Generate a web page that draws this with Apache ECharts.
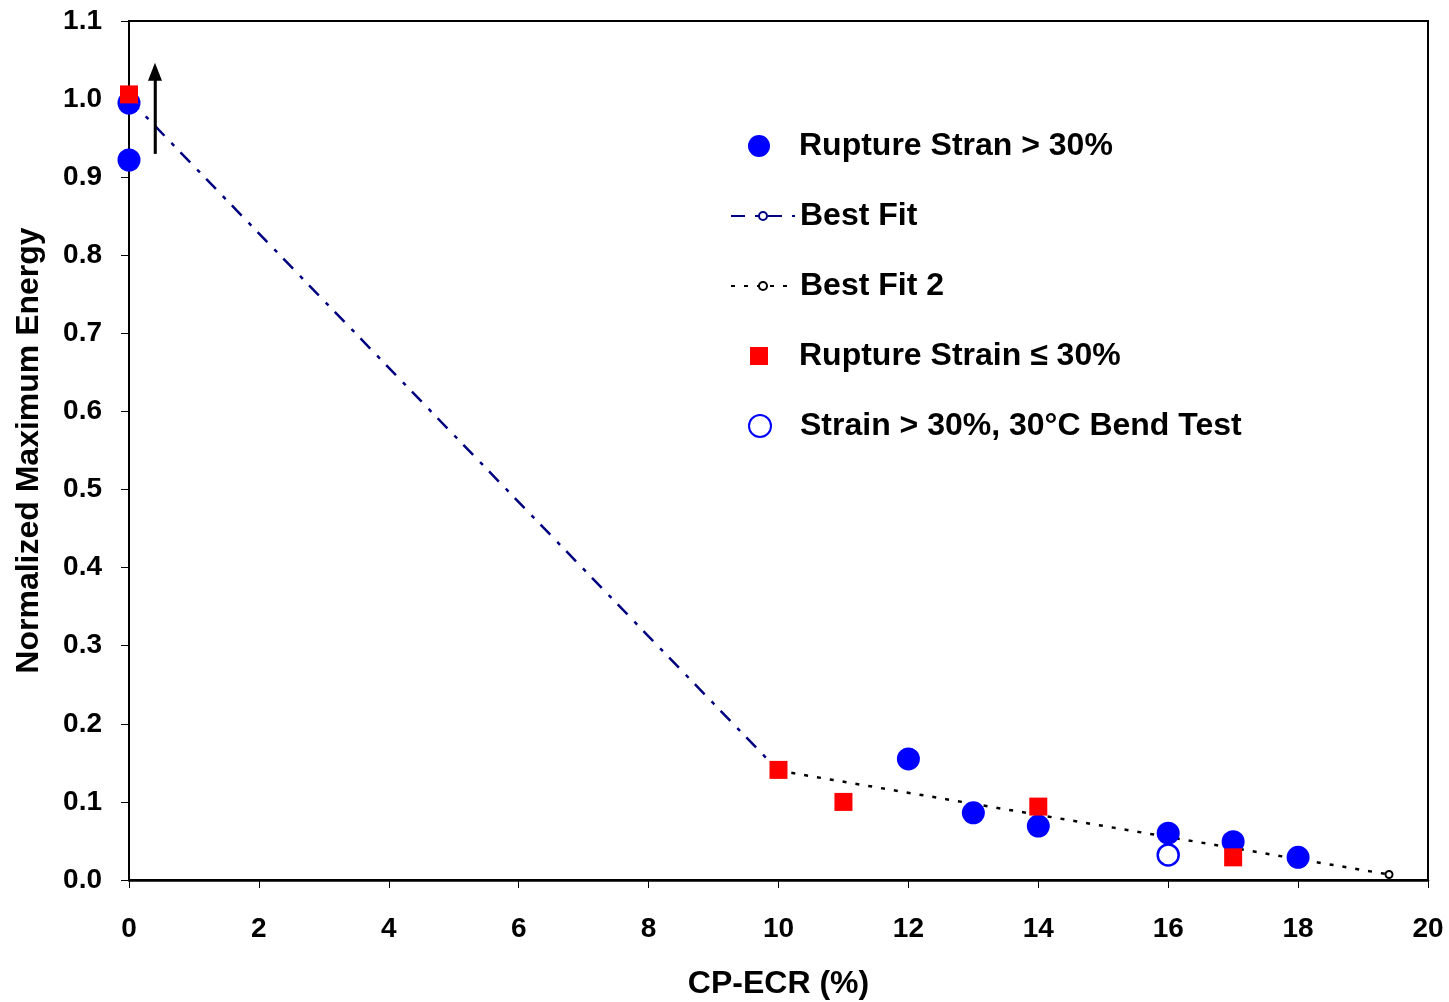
<!DOCTYPE html>
<html>
<head>
<meta charset="utf-8">
<script src="https://cdn.jsdelivr.net/npm/echarts@6/dist/echarts.min.js"></script>
<style>
  html, body { margin: 0; padding: 0; background: #fff; }
  #main { width: 1449px; height: 1002px; }
</style>
</head>
<body>
<div id="main"></div>
<script>
  // data
  const ruptureAbove = [[0, 0.995], [0, 0.922], [12, 0.155], [13, 0.086], [14, 0.069], [16, 0.060], [17, 0.049], [18, 0.029]];
  const ruptureBelow = [[0, 1.006], [10, 0.141], [11, 0.100], [14, 0.094], [17, 0.029]];
  const bendTest = [[16, 0.032]];
  const bestFit = [[0, 1.0], [10, 0.14]];
  const bestFit2 = [[10, 0.14], [19.4, 0.007]];
  const arrowLine = [[0.4, 0.93], [0.4, 1.035]];

  const names = ['Rupture Stran > 30%', 'Best Fit', 'Best Fit 2', 'Rupture Strain \u2264 30%', 'Strain > 30%, 30\u00b0C Bend Test'];

  const FONT = '"Liberation Sans", Arial, sans-serif';

  const chart = echarts.init(document.getElementById('main'));

  // one legend per entry so each icon can have its own size
  const legendMid = [143, 213, 283, 353, 423];
  const legendIconW = [22, 64, 64, 18, 22];
  const legendIconH = [22, 10, 10, 18, 22];
  const textX = 799;
  const iconMidX = 759;
  const legends = names.map((n, i) => {
    const w = legendIconW[i];
    const left = w > 30 ? textX - 5 - w : iconMidX - w / 2;
    const pad = textX - (left + w + 5);
    return {
      data: [n],
      left: left,
      top: legendMid[i] - 13,
      padding: 0,
      itemWidth: w,
      itemHeight: legendIconH[i],
      symbolKeepAspect: true,
      selectedMode: false,
      textStyle: {
        fontFamily: FONT, fontWeight: 'bold', fontSize: 32, color: '#000',
        padding: [0, 0, 0, pad]
      }
    };
  });

  const option = {
    animation: false,
    backgroundColor: '#fff',
    legend: legends,
    grid: {
      left: 129, right: 21, top: 21, bottom: 122,
      outerBoundsMode: 'none',
      show: true, borderColor: '#000', borderWidth: 2, backgroundColor: 'transparent'
    },
    xAxis: {
      type: 'value', min: 0, max: 20, interval: 2,
      name: 'CP-ECR (%)', nameLocation: 'middle', nameGap: 88,
      nameTextStyle: { fontFamily: FONT, fontWeight: 'bold', fontSize: 32, color: '#000' },
      axisLine: { lineStyle: { color: '#000', width: 2.5 } },
      axisTick: { show: true, length: 8, lineStyle: { color: '#000', width: 1 } },
      axisLabel: { fontFamily: FONT, fontWeight: 'bold', fontSize: 28, color: '#000', margin: 35 },
      splitLine: { show: false }
    },
    yAxis: {
      type: 'value', min: 0, max: 1.1, interval: 0.1,
      name: 'Normalized Maximum Energy', nameLocation: 'middle', nameGap: 84,
      nameTextStyle: { fontFamily: FONT, fontWeight: 'bold', fontSize: 32, color: '#000' },
      axisLine: { show: true, lineStyle: { color: '#000', width: 2 } },
      axisTick: { show: true, length: 8, lineStyle: { color: '#000', width: 1 } },
      axisLabel: {
        fontFamily: FONT, fontWeight: 'bold', fontSize: 28, color: '#000', margin: 27,
        formatter: v => v.toFixed(1)
      },
      splitLine: { show: false }
    },
    series: [
      {
        name: 'Best Fit', type: 'line', data: bestFit, z: 2,
        symbol: 'emptyCircle', symbolSize: 7, color: '#000080',
        lineStyle: { color: '#000080', width: 2.5, type: [14, 10, 4, 9] },
        itemStyle: { color: '#000080', borderWidth: 1.5 }
      },
      {
        name: 'Best Fit 2', type: 'line', data: bestFit2, z: 2,
        symbol: 'emptyCircle', symbolSize: 7, color: '#000',
        lineStyle: { color: '#000', width: 2.5, type: [4, 9] },
        itemStyle: { color: '#000', borderWidth: 2 }
      },
      {
        name: 'arrow', type: 'line', data: arrowLine, z: 2,
        symbol: 'none', lineStyle: { color: '#000', width: 2.5 },
        markLine: {
          silent: true, symbol: ['none', 'triangle'], symbolSize: [14, 18],
          label: { show: false },
          lineStyle: { color: '#000', width: 2.5, type: 'solid' },
          data: [[{ coord: arrowLine[0] }, { coord: arrowLine[1] }]]
        }
      },
      {
        name: names[0], type: 'scatter', data: ruptureAbove, z: 3,
        symbol: 'circle', symbolSize: 23, itemStyle: { color: '#0000ff', opacity: 1 }
      },
      {
        name: names[3], type: 'scatter', data: ruptureBelow, z: 4,
        symbol: 'rect', symbolSize: 18, itemStyle: { color: '#ff0000', opacity: 1 }
      },
      {
        name: names[4], type: 'scatter', data: bendTest, z: 4,
        symbol: 'circle', symbolSize: 21,
        itemStyle: { color: 'transparent', borderColor: '#0000ff', borderWidth: 2.5, opacity: 1 }
      }
    ]
  };

  chart.setOption(option);
</script>
</body>
</html>
